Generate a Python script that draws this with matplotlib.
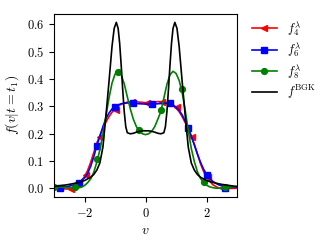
import numpy as np
import matplotlib
matplotlib.use("Agg")
import matplotlib.pyplot as plt
from matplotlib.lines import Line2D

plt.rcParams['font.family'] = 'serif'
plt.rcParams['font.serif'] = ['cmr10']
plt.rcParams['mathtext.fontset'] = 'cm'
plt.rcParams['axes.formatter.use_mathtext'] = True
plt.rcParams['font.size'] = 10

# reconstructed curves
v_red = [-3.0, -2.8, -2.6, -2.4, -2.2, -2.0, -1.9, -1.8, -1.7, -1.6, -1.5, -1.4, -1.3, -1.2, -1.1, -1.0,
         -0.9, -0.8, -0.6, -0.4, -0.2, 0.0, 0.2, 0.4, 0.6, 0.8, 0.9, 1.0, 1.1, 1.2, 1.3, 1.4, 1.5,
         1.6, 1.7, 1.8, 1.9, 2.0, 2.2, 2.4, 2.6, 2.8, 3.0]
f_red = [0.0, -0.002, -0.003, 0.0, 0.015, 0.042, 0.065, 0.095, 0.13, 0.165, 0.192, 0.218, 0.242, 0.262, 0.278, 0.29,
         0.3, 0.308, 0.315, 0.317, 0.315, 0.313, 0.314, 0.317, 0.316, 0.308, 0.302, 0.293, 0.28, 0.262, 0.24, 0.215, 0.19,
         0.16, 0.125, 0.09, 0.062, 0.04, 0.013, 0.0, -0.002, -0.001, 0.0]

v_blue = [-3.0, -2.8, -2.6, -2.4, -2.2, -2.0, -1.9, -1.8, -1.7, -1.6, -1.5, -1.4, -1.3, -1.2, -1.1, -1.0,
          -0.9, -0.8, -0.6, -0.4, -0.2, 0.0, 0.2, 0.4, 0.6, 0.8, 0.9, 1.0, 1.1, 1.2, 1.3, 1.4, 1.5,
          1.6, 1.7, 1.8, 1.9, 2.0, 2.2, 2.4, 2.6, 2.8, 3.0]
f_blue = [0.003, 0.003, 0.005, 0.01, 0.019, 0.038, 0.055, 0.08, 0.115, 0.155, 0.19, 0.225, 0.255, 0.275, 0.29, 0.298,
          0.305, 0.309, 0.312, 0.311, 0.309, 0.308, 0.308, 0.309, 0.311, 0.31, 0.305, 0.296, 0.285, 0.268, 0.245, 0.22, 0.19,
          0.158, 0.125, 0.095, 0.07, 0.05, 0.025, 0.012, 0.005, 0.003, 0.003]

v_green = [-3.0, -2.9, -2.8, -2.7, -2.6, -2.5, -2.4, -2.3, -2.2, -2.1, -2.0, -1.9, -1.8, -1.7, -1.6, -1.5,
           -1.4, -1.3, -1.2, -1.1, -1.0, -0.9, -0.8, -0.7, -0.6, -0.5, -0.4, -0.3, -0.2, -0.1, 0.0,
           0.1, 0.2, 0.3, 0.4, 0.5, 0.6, 0.7, 0.8, 0.9, 1.0, 1.1, 1.2, 1.3, 1.4, 1.5,
           1.6, 1.7, 1.8, 1.9, 2.0, 2.1, 2.2, 2.3, 2.4, 2.5, 2.6, 2.7, 2.8, 2.9, 3.0]
f_green = [0.006, 0.005, 0.004, 0.003, 0.002, 0.001, 0.0, 0.0, 0.001, 0.004, 0.01, 0.02, 0.034, 0.058, 0.095, 0.14,
           0.198, 0.265, 0.33, 0.385, 0.418, 0.428, 0.415, 0.382, 0.335, 0.29, 0.252, 0.225, 0.208, 0.199, 0.196,
           0.199, 0.208, 0.225, 0.252, 0.28, 0.33, 0.38, 0.415, 0.428, 0.42, 0.395, 0.35, 0.285, 0.21, 0.145,
           0.097, 0.06, 0.036, 0.021, 0.011, 0.005, 0.002, 0.0, 0.0, 0.001, 0.002, 0.003, 0.004, 0.005, 0.006]

v_bgk = [-3.0, -2.8, -2.6, -2.4, -2.2, -2.0, -1.8, -1.7, -1.6, -1.5, -1.4, -1.3, -1.2, -1.1, -1.03, -0.96,
         -0.9, -0.85, -0.8, -0.75, -0.7, -0.65, -0.6, -0.5, -0.4, -0.3, -0.2, -0.1, 0.0,
         0.1, 0.2, 0.3, 0.4, 0.5, 0.6, 0.65, 0.7, 0.75, 0.8, 0.85, 0.9, 0.96, 1.03, 1.1, 1.2,
         1.3, 1.4, 1.5, 1.6, 1.7, 1.8, 2.0, 2.2, 2.4, 2.6, 2.8, 3.0]
f_bgk = [0.006, 0.009, 0.012, 0.016, 0.021, 0.028, 0.04, 0.05, 0.066, 0.092, 0.15, 0.265, 0.39, 0.52, 0.585, 0.607,
         0.585, 0.53, 0.45, 0.36, 0.28, 0.225, 0.203, 0.199, 0.201, 0.205, 0.208, 0.21, 0.21,
         0.21, 0.208, 0.205, 0.201, 0.199, 0.203, 0.225, 0.28, 0.36, 0.45, 0.53, 0.585, 0.607, 0.585, 0.52, 0.39,
         0.265, 0.15, 0.092, 0.066, 0.05, 0.04, 0.028, 0.021, 0.016, 0.012, 0.009, 0.006]

# sample points (markers)
v_red_pts = [-2.85, -2.45, -1.97, -1.5, -0.97, -0.46, 0.05, 0.54, 1.02, 1.53, 2.05, 2.55]
f_red_pts = [0.0, -0.002, 0.05, 0.187, 0.287, 0.316, 0.311, 0.317, 0.296, 0.189, 0.04, 0.0]
v_blue_pts = [-2.8, -2.2, -1.6, -1.0, -0.4, 0.2, 0.8, 1.4, 2.0, 2.6]
f_blue_pts = [0.0, 0.019, 0.156, 0.297, 0.311, 0.307, 0.311, 0.22, 0.05, 0.002]
v_green_pts = [-3.0, -2.3, -1.6, -0.9, -0.2, 0.5, 1.2, 1.9, 2.6]
f_green_pts = [0.006, 0.004, 0.108, 0.426, 0.212, 0.287, 0.362, 0.024, 0.004]

labels = [r'$f_4^\lambda$', r'$f_6^\lambda$', r'$f_8^\lambda$', r'$f^{\mathrm{BGK}}$']

fig = plt.figure(figsize=(3.32, 2.44), dpi=100)
ax = fig.add_axes([0.163, 0.193, 0.551, 0.75])

lw = 1.2
ms = 4.2
ax.plot(v_red, f_red, color='red', lw=lw)
ax.plot(v_red_pts, f_red_pts, ls='none', marker='<', color='red', ms=ms)
ax.plot(v_blue, f_blue, color='blue', lw=lw)
ax.plot(v_blue_pts, f_blue_pts, ls='none', marker='s', color='blue', ms=ms)
ax.plot(v_green, f_green, color='green', lw=lw)
ax.plot(v_green_pts, f_green_pts, ls='none', marker='o', color='green', ms=ms)
ax.plot(v_bgk, f_bgk, color='black', lw=lw)

ax.set_xlim(-3, 3)
ax.set_ylim(-0.032, 0.638)
ax.set_xticks([-2, 0, 2])
ax.set_yticks([0.0, 0.1, 0.2, 0.3, 0.4, 0.5, 0.6])
ax.tick_params(labelsize=9)
ax.set_xlabel(r'$v$', fontsize=10)
ax.set_ylabel(r'$f(v|t=t_1)$', fontsize=10)

handles = [
    Line2D([], [], color='red', marker='<', ms=ms, lw=lw),
    Line2D([], [], color='blue', marker='s', ms=ms, lw=lw),
    Line2D([], [], color='green', marker='o', ms=ms, lw=lw),
    Line2D([], [], color='black', lw=lw),
]
ax.legend(handles, labels, loc='upper left', bbox_to_anchor=(1.02, 1.035),
          frameon=False, fontsize=9, handlelength=2.0, labelspacing=0.2)

fig.savefig('out.png', dpi=100)
